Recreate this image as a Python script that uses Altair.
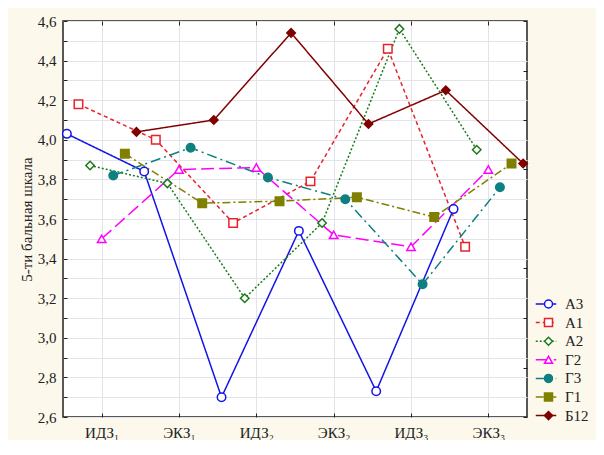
import altair as alt
import pandas as pd

categories = ["ИДЗ₁", "ЭКЗ₁", "ИДЗ₂", "ЭКЗ₂", "ИДЗ₃", "ЭКЗ₃"]
series_names = ["А3", "А1", "А2", "Г2", "Г3", "Г1", "Б12"]
vals_A3 = [4.03, 3.84, 2.70, 3.54, 2.73, 3.65]
vals_A1 = [4.18, 4.00, 3.58, 3.79, 4.46, 3.46]
vals_A2 = [3.87, 3.78, 3.20, 3.58, 4.56, 3.95]
vals_G2 = [3.50, 3.85, 3.86, 3.52, 3.46, 3.85]
vals_G3 = [3.82, 3.96, 3.81, 3.70, 3.27, 3.76]
vals_G1 = [3.93, 3.68, 3.69, 3.71, 3.61, 3.88]
vals_B12 = [4.04, 4.10, 4.54, 4.08, 4.25, 3.88]
y_ticks = [2.6, 2.7, 2.8, 2.9, 3.0, 3.1, 3.2, 3.3, 3.4, 3.5, 3.6, 3.7, 3.8, 3.9,
           4.0, 4.1, 4.2, 4.3, 4.4, 4.5, 4.6]
right_ticks = [2.6, 2.85, 3.1, 3.35, 3.6, 3.85, 4.1, 4.35, 4.6]
y_title = "5-ти бальная шкала"

series_colors = ["#1414e6", "#e8222c", "#1a7a1a", "#ff00ff", "#0f8080", "#808000", "#800000"]
series_dashes = [[1, 0], [4, 3], [2, 2], [13, 5], [10, 4, 2, 4], [8, 3, 2, 3], [1, 0]]
series_shapes = ["circle", "square", "diamond", "triangle-up", "circle", "square", "diamond"]
series_fills = ["white", "white", "white", "white", "#0f8080", "#808000", "#800000"]

all_vals = [vals_A3, vals_A1, vals_A2, vals_G2, vals_G3, vals_G1, vals_B12]
rows = []
for si, (name, vals) in enumerate(zip(series_names, all_vals)):
    for ci, v in enumerate(vals):
        rows.append({"series": name, "sidx": si, "cidx": ci + 1, "value": v})
df = pd.DataFrame(rows)

FONT = "Liberation Serif"
TXT = "#222222"
GRID = "#e3e3ea"
cat_idx = list(range(1, len(categories) + 1))
series_idx = list(range(len(series_names)))
label_expr = "[" + ",".join("'" + c + "'" for c in categories) + "][datum.value - 1]"
y_label_expr = ("abs(round(datum.value * 10)) % 2 == 0 ? "
                "replace(format(datum.value, '.1f'), '.', ',') : ''")

xscale = alt.Scale(domain=[0.5, 6.5], nice=False, zero=False)
yscale = alt.Scale(domain=[2.6, 4.6], nice=False, zero=False)

base = alt.Chart(df).transform_calculate(
    xpos="datum.cidx + (datum.sidx - 3) * 0.15"
)

ROW_H = 18
ROW_PAD = 0.6
LEG_Y = 274

line_legend = alt.Legend(
    orient="none", legendX=472, legendY=LEG_Y, title=None,
    symbolType="stroke", symbolSize=420, symbolStrokeWidth=1.5,
    labelExpr="''", clipHeight=ROW_H, rowPadding=ROW_PAD, labelFontSize=15, labelFont=FONT,
)

lines = base.mark_line(strokeWidth=1.5).encode(
    x=alt.X("xpos:Q", scale=xscale, axis=alt.Axis(
        orient="bottom", values=cat_idx, labelExpr=label_expr, title=None,
        grid=True, gridColor=GRID, domain=False, tickSize=4, tickColor=TXT,
        offset=-4, labelPadding=8, labelFontSize=15, labelFont=FONT, labelColor=TXT)),
    y=alt.Y("value:Q", scale=yscale, axis=alt.Axis(
        orient="left", values=y_ticks, labelExpr=y_label_expr, title=y_title,
        grid=True, gridColor=GRID, domain=False, tickSize=4, tickColor=TXT,
        offset=-4, labelPadding=7, labelFontSize=15, labelFont=FONT, labelColor=TXT,
        titleFont=FONT, titleFontSize=15, titleFontWeight="normal", titleColor=TXT,
        titlePadding=3)),
    color=alt.Color("sidx:N", scale=alt.Scale(domain=series_idx, range=series_colors),
                    legend=line_legend),
    strokeDash=alt.StrokeDash("sidx:N", scale=alt.Scale(domain=series_idx, range=series_dashes),
                              legend=line_legend),
    detail="series:N",
    order="cidx:Q",
)

point_legend = alt.Legend(
    orient="none", legendX=478, legendY=LEG_Y, title=None,
    symbolSize=64, symbolStrokeWidth=1.5, symbolOpacity=1,
    clipHeight=ROW_H, rowPadding=ROW_PAD, labelOffset=9,
    labelFontSize=15, labelFont=FONT, labelColor=TXT,
)

points = base.mark_point(filled=True, size=72, strokeWidth=1.5, opacity=1).encode(
    x=alt.X("xpos:Q", scale=xscale, axis=alt.Axis(
        orient="top", values=cat_idx, labels=False, title=None, grid=False,
        domain=False, tickSize=4, tickColor=TXT, offset=-4)),
    y=alt.Y("value:Q", scale=yscale, axis=alt.Axis(
        orient="right", values=right_ticks, labels=False, title=None, grid=False,
        domain=False, tickSize=4, tickColor=TXT, offset=-4)),
    shape=alt.Shape("series:N", scale=alt.Scale(domain=series_names, range=series_shapes),
                    legend=point_legend),
    stroke=alt.Stroke("series:N", scale=alt.Scale(domain=series_names, range=series_colors),
                      legend=point_legend),
    fill=alt.Fill("series:N", scale=alt.Scale(domain=series_names, range=series_fills),
                  legend=point_legend),
)

chart = alt.layer(lines, points).resolve_axis(
    x="independent", y="independent"
).properties(
    width=464, height=396,
    autosize=alt.AutoSizeParams(type="none"),
    padding={"left": 55, "top": 13, "right": 69, "bottom": 23},
    background="#fcf8ec",
).configure_view(
    stroke="#222222", strokeWidth=1.5, fill="white"
)

chart.save("out.html", embed_options={"renderer": "svg", "actions": False})
